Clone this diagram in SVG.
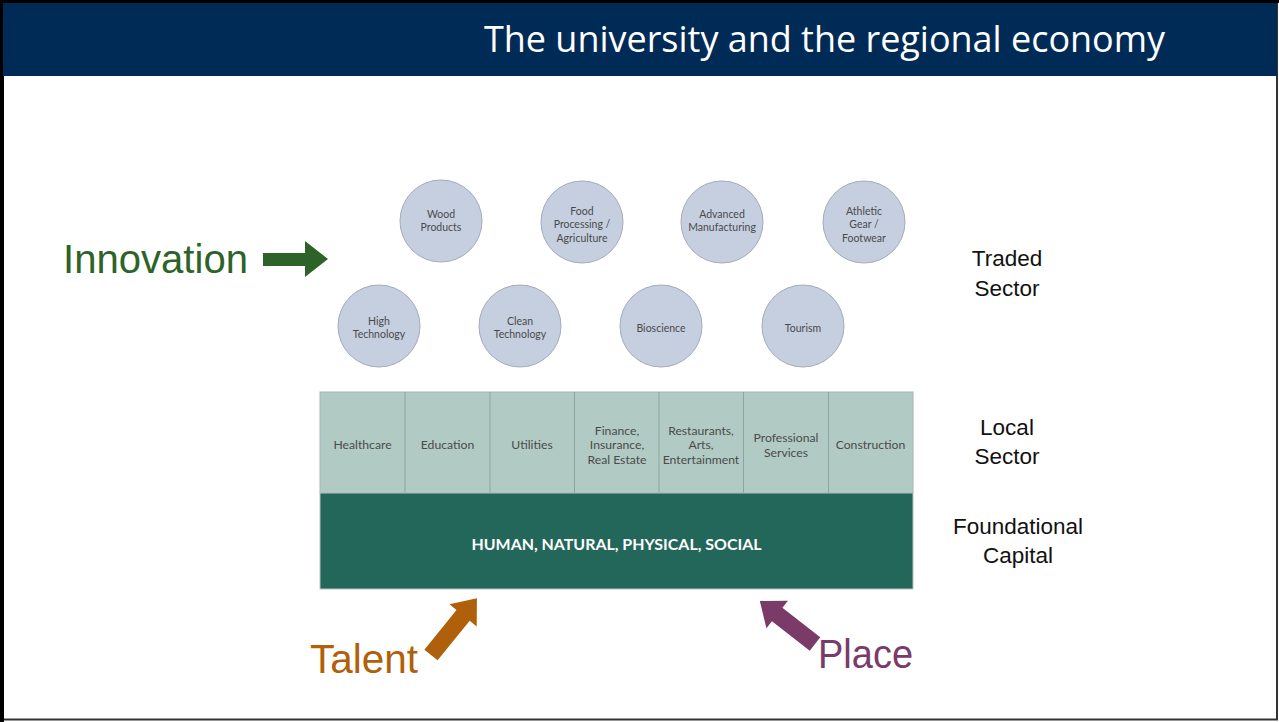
<svg xmlns="http://www.w3.org/2000/svg" width="1279" height="722" viewBox="0 0 1279 722">
<style>
.c{fill:#C5CFE0;stroke:#A3ACB8;stroke-width:1}
.ct{font-family:Lato,"Noto Sans",sans-serif;font-size:10.5px;fill:#4a4a4a;text-anchor:middle}
.lt{font-family:Lato,"Noto Sans",sans-serif;font-size:12.2px;fill:#4a4a4a;text-anchor:middle}
.side{font-family:"Liberation Sans",Arial,sans-serif;font-size:22.5px;fill:#111;text-anchor:middle}
.big{font-family:"Liberation Sans",Arial,sans-serif;font-size:40px}
</style>
<rect x="0" y="0" width="1279" height="722" fill="#ffffff"/>
<rect x="1.5" y="1.5" width="1275.5" height="718" fill="none" stroke="#333" stroke-width="2"/>
<rect x="0" y="0" width="4" height="722" fill="#000"/>
<rect x="0" y="0" width="1279" height="3" fill="#000"/>
<rect x="3" y="3" width="1274" height="73" fill="#002B56"/>
<text x="1165" y="52" font-family="'Open Sans','Noto Sans',sans-serif" font-size="36" fill="#ffffff" text-anchor="end" textLength="681" lengthAdjust="spacingAndGlyphs">The university and the regional economy</text>

<g id="traded">
<g id="wood"><circle class="c" cx="441" cy="221" r="41"/><text class="ct" x="441" y="218">Wood</text><text class="ct" x="441" y="231">Products</text></g>
<g id="food"><circle class="c" cx="582" cy="222" r="41"/><text class="ct" x="582" y="215">Food</text><text class="ct" x="582" y="228">Processing /</text><text class="ct" x="582" y="242">Agriculture</text></g>
<g id="advanced"><circle class="c" cx="722" cy="222" r="41"/><text class="ct" x="722" y="218">Advanced</text><text class="ct" x="722" y="231">Manufacturing</text></g>
<g id="athletic"><circle class="c" cx="864" cy="222" r="41"/><text class="ct" x="864" y="215">Athletic</text><text class="ct" x="864" y="228">Gear /</text><text class="ct" x="864" y="242">Footwear</text></g>
<g id="hightech"><circle class="c" cx="379" cy="326" r="41"/><text class="ct" x="379" y="325">High</text><text class="ct" x="379" y="338">Technology</text></g>
<g id="clean"><circle class="c" cx="520" cy="326" r="41"/><text class="ct" x="520" y="325">Clean</text><text class="ct" x="520" y="338">Technology</text></g>
<g id="bio"><circle class="c" cx="661" cy="326" r="41"/><text class="ct" x="661" y="332">Bioscience</text></g>
<g id="tourism"><circle class="c" cx="803" cy="326" r="41"/><text class="ct" x="803" y="332">Tourism</text></g>
</g>

<g id="local">
<rect x="320" y="392" width="593" height="101" fill="#B2CAC4" stroke="#A8B5B1" stroke-width="1"/>
<g stroke="#8FA39E" stroke-width="1">
<line x1="405" y1="392" x2="405" y2="493"/><line x1="490" y1="392" x2="490" y2="493"/><line x1="574.5" y1="392" x2="574.5" y2="493"/><line x1="659" y1="392" x2="659" y2="493"/><line x1="743.5" y1="392" x2="743.5" y2="493"/><line x1="828.5" y1="392" x2="828.5" y2="493"/>
</g>
<text class="lt" x="362.5" y="449">Healthcare</text>
<text class="lt" x="447.5" y="449">Education</text>
<text class="lt" x="532" y="449">Utilities</text>
<text class="lt" x="617" y="435">Finance,</text><text class="lt" x="617" y="449">Insurance,</text><text class="lt" x="617" y="464">Real Estate</text>
<text class="lt" x="701" y="435">Restaurants,</text><text class="lt" x="701" y="449">Arts,</text><text class="lt" x="701" y="464">Entertainment</text>
<text class="lt" x="786" y="442">Professional</text><text class="lt" x="786" y="457">Services</text>
<text class="lt" x="870.5" y="449">Construction</text>
</g>

<g id="foundational">
<rect x="320" y="493" width="593" height="96" fill="#22675A" stroke="#B8C4C1" stroke-width="1"/>
<text x="616.5" y="550" font-family="Lato,'Noto Sans',sans-serif" font-size="14.5" font-weight="bold" fill="#ffffff" text-anchor="middle" textLength="290" lengthAdjust="spacingAndGlyphs">HUMAN, NATURAL, PHYSICAL, SOCIAL</text>
</g>

<g id="labels">
<text class="side" x="1007" y="266">Traded</text><text class="side" x="1007" y="296">Sector</text>
<text class="side" x="1007" y="435">Local</text><text class="side" x="1007" y="464">Sector</text>
<text class="side" x="1018" y="534">Foundational</text><text class="side" x="1018" y="563">Capital</text>
</g>

<g id="innovation">
<text class="big" x="63" y="273" fill="#2D6328" textLength="185" lengthAdjust="spacingAndGlyphs">Innovation</text>
</g>
<g id="talent">
<text class="big" x="310" y="673" fill="#B05F0A" textLength="108" lengthAdjust="spacingAndGlyphs">Talent</text>
</g>
<g id="place">
<text class="big" x="818" y="668" fill="#7A3B69" textLength="95" lengthAdjust="spacingAndGlyphs">Place</text>
</g>

<g id="connectors">
<polygon points="263,253 305,253 305,241 328,259 305,277 305,266 263,266" fill="#2D6328"/>
<polygon points="0,-8.5 51,-8.5 51,-17.5 73,0 51,17.5 51,8.5 0,8.5" fill="#B05F0A" transform="translate(431,655) rotate(-51)"/>
<polygon points="0,-8.5 48,-8.5 48,-17.5 70,0 48,17.5 48,8.5 0,8.5" fill="#7A3B69" transform="translate(815,644) rotate(-142)"/>
</g>
</svg>
